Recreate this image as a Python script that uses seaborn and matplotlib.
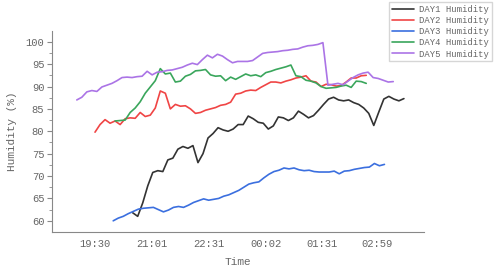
import numpy as np
import pandas as pd
import matplotlib
matplotlib.use("Agg")
import matplotlib.pyplot as plt
import seaborn as sns

# sampling step in minutes, x = minutes after 19:30
step = 8

day1_start = 60
day1 = [61.8, 61.0, 64.0, 67.8, 70.8, 71.2, 71.0, 73.6, 74.0, 76.0,
        76.6, 76.2, 76.8, 73.0, 75.0, 78.5, 79.5, 80.8, 80.3, 80.0,
        80.5, 81.5, 81.5, 83.4, 82.8, 82.0, 81.8, 80.5, 81.2, 83.2,
        83.0, 82.4, 83.0, 84.5, 83.8, 83.0, 83.5, 84.7, 86.0, 87.2,
        87.6, 87.0, 86.8, 87.0, 86.4, 86.0, 85.2, 84.0, 81.3, 84.3,
        87.2, 87.8, 87.2, 86.8, 87.3]

day2_start = 0
day2 = [79.8, 81.5, 82.6, 81.8, 82.3, 81.5, 82.8, 83.0, 82.9, 84.2,
        83.3, 83.6, 85.2, 89.0, 88.5, 85.0, 86.0, 85.6, 85.7, 85.0,
        84.0, 84.2, 84.7, 85.0, 85.3, 85.8, 86.0, 86.5, 88.3, 88.5,
        89.0, 89.2, 89.1, 89.8, 90.4, 91.0, 91.0, 90.8, 91.2, 91.5,
        91.9, 92.1, 92.4, 91.2, 91.0, 90.0, 90.5, 90.4, 90.1, 90.2,
        91.0, 91.9, 91.9, 92.4, 92.5]

day3_start = 29
day3 = [60.0, 60.6, 61.0, 61.6, 62.1, 62.6, 62.8, 62.9, 63.0, 62.5,
        62.0, 62.4, 63.0, 63.2, 63.0, 63.5, 64.1, 64.5, 64.9, 64.6,
        64.8, 65.0, 65.5, 65.8, 66.3, 66.8, 67.5, 68.2, 68.5, 68.7,
        69.6, 70.4, 71.0, 71.3, 71.8, 71.6, 71.8, 71.4, 71.2, 71.3,
        71.0, 70.9, 70.9, 70.9, 71.1, 70.5, 71.1, 71.2, 71.5, 71.7,
        71.9, 72.0, 72.8, 72.3, 72.6]

day4_start = 32
day4 = [82.3, 82.4, 82.5, 84.2, 85.2, 86.6, 88.5, 89.9, 91.3, 94.0,
        92.8, 93.0, 91.0, 91.2, 92.3, 92.7, 93.5, 93.6, 93.8, 92.6,
        92.3, 92.4, 91.3, 92.1, 91.6, 92.2, 92.8, 92.4, 92.6, 92.2,
        93.1, 93.4, 93.8, 94.1, 94.4, 94.8, 92.4, 92.2, 91.4, 91.2,
        90.8, 90.0, 89.6, 89.7, 89.8, 90.1, 90.3, 89.8, 91.2, 91.1,
        90.7]

day5_start = -29
day5 = [87.0, 87.6, 88.8, 89.1, 88.9, 89.9, 90.3, 90.7, 91.3, 92.0,
        92.1, 92.0, 92.2, 92.3, 93.4, 92.6, 93.2, 93.3, 93.6, 93.7,
        94.0, 94.3, 94.8, 95.2, 94.9, 96.0, 97.0, 96.4, 97.2, 96.8,
        96.0, 95.3, 95.6, 95.6, 95.6, 95.8, 96.6, 97.4, 97.6, 97.7,
        97.8, 98.0, 98.1, 98.3, 98.4, 98.8, 99.1, 99.2, 99.4, 99.8,
        90.3, 90.5, 90.7, 90.4, 91.2, 92.0, 92.6, 93.0, 93.2, 92.0,
        91.8, 91.4, 91.0, 91.1]

labels = ["DAY1 Humidity", "DAY2 Humidity", "DAY3 Humidity",
          "DAY4 Humidity", "DAY5 Humidity"]
colors = ["#333333", "#f04545", "#3b6fdf", "#3aa65c", "#ab74e6"]

tick_minutes = [0, 91, 181, 272, 361, 449]
tick_labels = ["19:30", "21:01", "22:31", "00:02", "01:31", "02:59"]

frames = []
for lab, start, vals in zip(labels,
                            [day1_start, day2_start, day3_start, day4_start, day5_start],
                            [day1, day2, day3, day4, day5]):
    frames.append(pd.DataFrame({
        "minute": start + step * np.arange(len(vals)),
        "humidity": vals,
        "series": lab,
    }))
df = pd.concat(frames, ignore_index=True)

sns.set_style("ticks")
plt.rcParams["font.family"] = ["Liberation Mono", "DejaVu Sans"]

fig = plt.figure(figsize=(4.96, 2.70), dpi=100)
ax = fig.add_axes([52 / 496, 38 / 270, 372 / 496, 201 / 270])

sns.lineplot(data=df, x="minute", y="humidity", hue="series",
             palette=dict(zip(labels, colors)), linewidth=1.2,
             sort=False, ax=ax)

ax.set_xlim(-68.5, 524)
ax.set_ylim(57.5, 102.4)
ax.set_xticks(tick_minutes)
ax.set_xticklabels(tick_labels)
ax.set_yticks([60, 65, 70, 75, 80, 85, 90, 95, 100])
ax.set_yticks(np.arange(62.5, 102.5, 5), minor=True)

grey = "#666666"
for s in ["top", "right"]:
    ax.spines[s].set_visible(False)
for s in ["left", "bottom"]:
    ax.spines[s].set_color("#888888")
    ax.spines[s].set_linewidth(0.8)
ax.tick_params(axis="y", which="major", length=3.5, width=0.8,
               color="#888888", labelsize=7.6, labelcolor=grey, pad=2)
ax.tick_params(axis="y", which="minor", length=2, width=0.6, color="#888888")
ax.tick_params(axis="x", length=0, labelsize=7.6, labelcolor=grey, pad=5)

ax.set_xlabel("Time", fontsize=8, color=grey, labelpad=6)
ax.set_ylabel("Humidity (%)", fontsize=8, color=grey, labelpad=6)

sns.move_legend(ax, "upper right", bbox_to_anchor=(492 / 496, 1 - 2 / 270),
                bbox_transform=fig.transFigure, title=None, fontsize=6.4,
                frameon=True, fancybox=False, edgecolor="#cccccc",
                labelspacing=0.25, handlelength=2.5, handletextpad=0.6,
                borderpad=0.3, borderaxespad=0)
for t in ax.get_legend().get_texts():
    t.set_color(grey)

fig.savefig("out.png", dpi=100)
